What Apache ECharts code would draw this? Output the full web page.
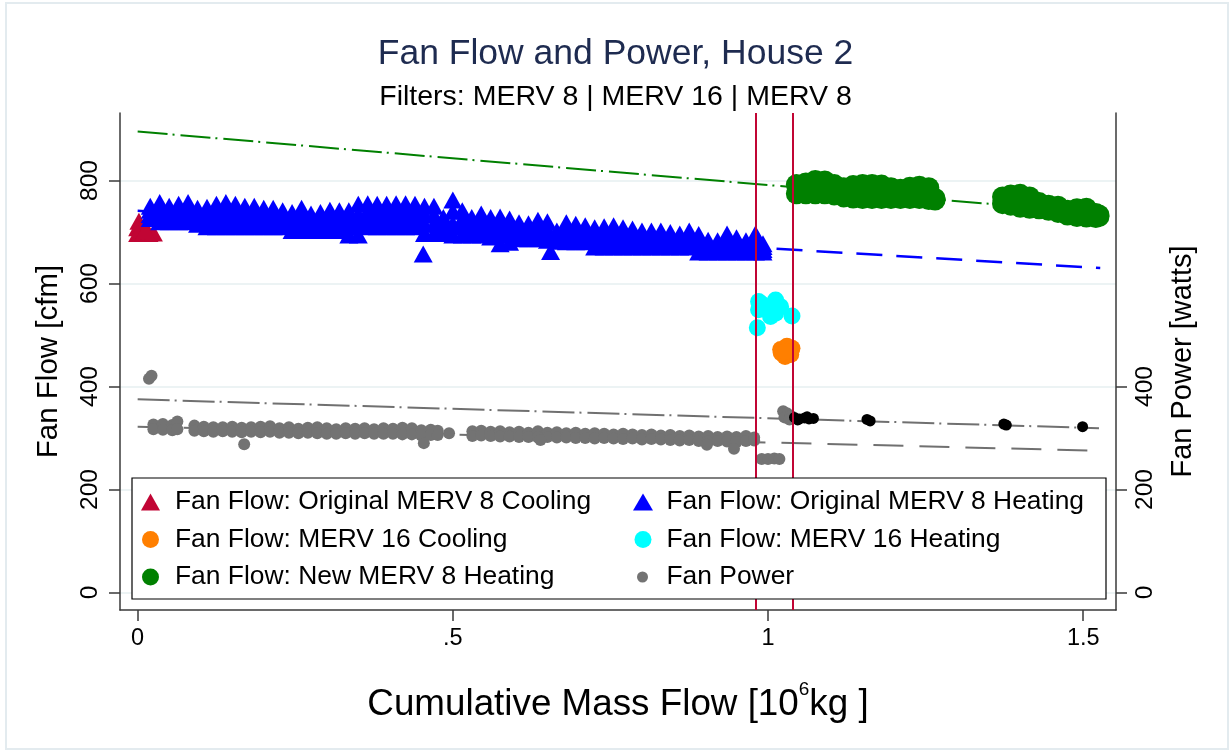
<!DOCTYPE html>
<html><head><meta charset="utf-8">
<script src="https://cdn.jsdelivr.net/npm/echarts@6/dist/echarts.min.js"></script>
<style>html,body{margin:0;padding:0;background:#fff}#c{width:1231px;height:753px}</style>
</head><body><div id="c"></div>
<script>
const FONT = "'Liberation Sans', Arial, sans-serif";

// ---- tick labels ----
const xTickValues = [0, 0.5, 1, 1.5];
const xTickLabels = ['0', '.5', '1', '1.5'];
const flowTickValues = [0, 200, 400, 600, 800];
const powerTickValues = [0, 200, 400];
const filterChanges = [0.983, 1.041];

// ---- series names ----
const N_RED = 'Fan Flow: Original MERV 8 Cooling';
const N_BLUE = 'Fan Flow: Original MERV 8 Heating';
const N_ORANGE = 'Fan Flow: MERV 16 Cooling';
const N_CYAN = 'Fan Flow: MERV 16 Heating';
const N_GREEN = 'Fan Flow: New MERV 8 Heating';
const N_POWER = 'Fan Power';

// ---- data (x in 10^6 kg, y in cfm / watts) ----
const origCooling = [[0.002,721],[0.000,708],[0.006,706],[0.000,697],[0.010,698],[0.018,697],[0.025,698],[0.012,703]];

// [x, top, mid1, mid2, bottom]
const origHeatingRows = [
[0.020,750,742,734,726],[0.035,757,745,732,720],[0.050,750,740,730,720],[0.065,754,742,731,720],
[0.080,757,745,732,720],[0.095,746,736,725,715],[0.110,748,735,722,710],[0.125,754,740,725,710],
[0.140,757,742,726,710],[0.155,754,740,725,710],[0.170,750,736,723,710],[0.185,750,736,723,710],
[0.200,746,734,722,710],[0.215,746,734,722,710],[0.230,741,731,720,710],[0.245,738,726,715,703],
[0.260,746,732,717,703],[0.275,735,724,714,703],[0.290,738,726,715,703],[0.305,742,729,716,703],
[0.320,741,728,716,703],[0.335,741,725,710,694],[0.350,754,734,714,694],[0.365,755,740,725,710],
[0.380,754,739,724,710],[0.395,754,739,724,710],[0.410,755,740,725,710],[0.425,755,740,725,710],
[0.440,754,739,724,710],[0.455,750,733,715,697],[0.470,750,733,715,697],[0.485,728,718,707,697],
[0.500,762,740,716,694],[0.515,741,725,710,694],[0.530,728,717,705,694],[0.545,735,721,708,694],
[0.560,728,715,703,690],[0.575,729,712,694,677],[0.590,725,710,695,680],[0.605,718,708,697,687],
[0.620,716,706,697,687],[0.635,723,711,699,687],[0.650,720,706,694,684],[0.665,702,694,688,682],
[0.680,718,706,693,681],[0.695,715,704,692,681],[0.710,712,702,691,681],[0.725,708,696,683,671],
[0.740,710,697,684,671],[0.755,712,698,685,671],[0.770,708,696,683,671],[0.785,706,694,683,671],
[0.800,702,692,681,671],[0.815,702,692,681,671],[0.830,702,692,681,671],[0.845,699,690,680,671],
[0.860,696,688,679,671],[0.875,702,692,681,671],[0.890,695,684,672,661],[0.905,684,676,669,661],
[0.920,683,676,668,661],[0.935,696,684,673,661],[0.950,689,680,670,661],[0.965,683,676,668,661],
[0.980,696,684,673,661],[0.992,677,672,666,661]
];
const origHeatingExtra = [[0.453,657],[0.655,662]];

const merv16Cooling = [[1.020,472],[1.030,478],[1.038,474],[1.036,462],[1.027,458],[1.021,465],[1.028,468]];
const merv16Heating = [[0.985,565],[1.012,568],[0.999,552],[0.985,549],[1.012,542],[1.004,536],[1.038,537],[0.983,514],[1.020,555],[0.990,560]];

// [x, top, bottom]
const newMerv8Rows = [
[1.045,792,774],[1.060,795,774],[1.075,800,774],[1.090,799,774],[1.105,792,772],[1.120,786,768],
[1.135,790,766],[1.150,792,765],[1.165,792,765],[1.180,791,765],[1.195,786,765],[1.210,783,765],
[1.225,787,765],[1.240,789,765],[1.255,786,763],[1.265,765,762],
[1.372,768,755],[1.385,772,752],[1.400,773,748],[1.415,768,746],[1.430,757,745],[1.445,752,742],
[1.460,750,738],[1.475,742,733],[1.490,745,730],[1.505,746,729],[1.520,736,728],[1.525,733,730]
];

// fan power [x, upper, lower] (watts)
const powerRows = [
[0.025,326,317],[0.040,327,316],[0.055,325,315],[0.063,332,317],
[0.090,324,314],[0.105,322,313],[0.120,321,312],[0.135,321,313],[0.150,322,312],[0.165,320,311],
[0.180,321,312],[0.195,322,311],[0.210,323,312],[0.225,319,310],[0.240,321,310],[0.255,318,309],
[0.270,320,310],[0.285,321,309],[0.300,319,308],[0.315,317,308],[0.330,319,309],[0.345,318,308],
[0.360,319,309],[0.375,317,308],[0.390,319,308],[0.405,318,308],[0.420,320,307],[0.435,319,307],
[0.450,315,305],[0.465,316,306],[0.476,314,306],
[0.531,313,304],[0.545,314,305],[0.560,312,304],[0.575,313,303],[0.590,311,303],[0.605,312,302],
[0.620,310,302],[0.635,313,301],[0.650,310,302],[0.665,311,301],[0.680,309,301],[0.695,310,300],
[0.710,308,300],[0.725,309,299],[0.740,308,300],[0.755,307,299],[0.770,308,298],[0.785,307,299],
[0.800,306,297],[0.815,307,298],[0.830,305,297],[0.845,306,296],[0.860,304,295],[0.875,305,296],
[0.890,303,294],[0.905,304,293],[0.920,302,294],[0.935,303,293],[0.950,302,292],[0.965,304,294],
[0.978,301,295]
];
const powerExtra = [[0.018,415],[0.022,421],[0.169,288],[0.454,290],[0.494,309],[0.639,296],[0.903,287],[0.946,279],
[0.990,259],[1.000,259],[1.010,260],[1.018,259],[1.024,352],[1.030,348],[1.026,340],[1.036,343],[1.034,336]];
const powerNewMerv8 = [[1.042,340],[1.050,337],[1.058,339],[1.065,337],[1.072,338],[1.047,335],[1.062,341],
[1.157,336],[1.162,333],[1.374,327],[1.378,325],[1.499,322]];

// fitted lines (end points)
const fitHeatingOrig = [[0, 741], [1.527, 630]];
const fitHeatingNew = [[0, 895], [1.53, 736]];
const fitPowerNew = [[0, 375], [1.525, 319]];
const fitPowerOrig = [[0, 322], [1.53, 275]];

// ---- reshape ----
function rowsToPoints(rows) {
  const out = [];
  rows.forEach(r => r.slice(1).forEach(v => out.push([r[0], v])));
  return out;
}
const blueData = rowsToPoints(origHeatingRows).concat(origHeatingExtra);
const greenData = rowsToPoints(newMerv8Rows);
const powerData = rowsToPoints(powerRows).concat(powerExtra);

const axisColor = '#3a3a3a';
const chart = echarts.init(document.getElementById('c'), null, {renderer: 'canvas'});

const lineSeries = (data, color, dash, width, yIdx) => ({
  type: 'line', data, yAxisIndex: yIdx, symbol: 'none', silent: true, z: 1,
  lineStyle: {color, width, type: dash}, showSymbol: false
});
const scat = (name, data, color, symbol, size, yIdx, z) => ({
  type: 'scatter', name, data, yAxisIndex: yIdx || 0, symbol, symbolSize: size, z: z || 2,
  itemStyle: {color, opacity: 1}, silent: true
});

const legendText = (pad) => ({fontSize: 26.4, lineHeight: 26, color: '#000', fontFamily: FONT, padding: [0, 0, 0, pad]});

chart.setOption({
  animation: false,
  backgroundColor: '#fff',
  textStyle: {fontFamily: FONT},
  title: [
    {text: 'Fan Flow and Power, House 2', left: 'center', top: 31,
     textStyle: {fontSize: 35.5, fontWeight: 'normal', color: '#1e2b50', fontFamily: FONT}},
    {text: 'Filters: MERV 8 | MERV 16 | MERV 8', left: 'center', top: 78,
     textStyle: {fontSize: 28.5, fontWeight: 'normal', color: '#000', fontFamily: FONT}}
  ],
  grid: {left: 120, right: 115, top: 113, bottom: 143, outerBoundsMode: 'none'},
  xAxis: {
    type: 'value', min: -0.028, max: 1.552,
    axisLine: {show: true, onZero: false, lineStyle: {color: axisColor, width: 1.5}},
    axisTick: {show: true, customValues: xTickValues, length: 11, lineStyle: {color: axisColor, width: 1.5}},
    axisLabel: {customValues: xTickValues, formatter: v => xTickLabels[xTickValues.indexOf(v)],
      fontSize: 23.5, color: '#000', margin: 17, fontFamily: FONT},
    splitLine: {show: false},
    name: '{m|Cumulative Mass Flow [10}{sup|6}{m|kg ]}', nameLocation: 'middle', nameGap: 70,
    nameTextStyle: {color: '#000', fontFamily: FONT, fontSize: 36.8,
      rich: {m: {fontSize: 36.8, lineHeight: 50, color: '#000', fontFamily: FONT},
             sup: {fontSize: 19, lineHeight: 19, verticalAlign: 'top', color: '#000', fontFamily: FONT}}}
  },
  yAxis: [
    {type: 'value', min: -34, max: 931, position: 'left',
     axisLine: {show: true, onZero: false, lineStyle: {color: axisColor, width: 1.5}},
     axisTick: {show: true, customValues: flowTickValues, length: 11, lineStyle: {color: axisColor, width: 1.5}},
     axisLabel: {customValues: flowTickValues, rotate: 90, fontSize: 24.5, color: '#000', margin: 17, fontFamily: FONT},
     splitLine: {show: true, lineStyle: {color: '#e6eff1', width: 1.5}},
     name: 'Fan Flow [cfm]', nameLocation: 'middle', nameRotate: 90, nameGap: 56,
     nameTextStyle: {fontSize: 29.5, color: '#000', fontFamily: FONT}},
    {type: 'value', min: -34, max: 931, position: 'right',
     axisLine: {show: true, onZero: false, lineStyle: {color: axisColor, width: 1.5}},
     axisTick: {show: true, customValues: powerTickValues, length: 11, lineStyle: {color: axisColor, width: 1.5}},
     axisLabel: {customValues: powerTickValues, rotate: 90, fontSize: 24.5, color: '#000', margin: 17, fontFamily: FONT},
     splitLine: {show: false},
     name: 'Fan Power [watts]', nameLocation: 'middle', nameRotate: 90, nameGap: 52,
     nameTextStyle: {fontSize: 29, color: '#000', fontFamily: FONT}}
  ],
  legend: [
    {orient: 'vertical', left: 141, top: 489, padding: 0, itemWidth: 19, itemHeight: 17, itemGap: 11.5,
     selectedMode: false, z: 110, textStyle: legendText(10),
     data: [{name: N_RED, icon: 'triangle'}, {name: N_ORANGE, icon: 'circle'}, {name: N_GREEN, icon: 'circle'}]},
    {orient: 'vertical', left: 633, top: 489, padding: 0, itemWidth: 20, itemHeight: 17, itemGap: 11.5,
     selectedMode: false, z: 110, textStyle: legendText(8.5),
     data: [{name: N_BLUE, icon: 'triangle'}, {name: N_CYAN, icon: 'circle'}]},
    {orient: 'vertical', left: 637, top: 564, padding: 0, itemWidth: 11, itemHeight: 11,
     selectedMode: false, z: 110, textStyle: legendText(13.5),
     data: [{name: N_POWER, icon: 'circle'}]}
  ],
  graphic: [
    {type: 'rect', z: 0, silent: true, shape: {x: 6, y: 3, width: 1222, height: 746},
     style: {fill: 'none', stroke: '#e3ebef', lineWidth: 2}},
    {type: 'rect', z: 100, silent: true, shape: {x: 132, y: 478, width: 974, height: 121},
     style: {fill: '#fff', stroke: '#000', lineWidth: 1.2}}
  ],
  series: [
    lineSeries(fitHeatingOrig, '#0000ff', [26, 14], 2.5, 0),
    lineSeries(fitHeatingNew, '#008000', [30, 5, 2, 6], 2, 0),
    lineSeries(fitPowerNew, '#707070', [32, 5, 2, 6], 2, 1),
    lineSeries(fitPowerOrig, '#707070', [30, 16], 2, 1),
    scat(N_RED, origCooling, '#c10534', 'triangle', [19, 17], 0),
    scat(N_BLUE, blueData, '#0000ff', 'triangle', [19, 17], 0),
    scat(N_ORANGE, merv16Cooling, '#ff7f00', 'circle', 17, 0),
    scat(N_CYAN, merv16Heating, '#00ffff', 'circle', 17, 0),
    scat(N_GREEN, greenData, '#008000', 'circle', 21, 0),
    scat(N_POWER, powerData, '#737373', 'circle', 12, 1),
    scat('Fan Power: New MERV 8', powerNewMerv8, '#000000', 'circle', 11, 1),
    {type: 'scatter', name: 'Filter changes', data: [], z: 10, silent: true,
     markLine: {silent: true, symbol: ['none', 'none'], label: {show: false}, animation: false,
       lineStyle: {color: '#c10534', width: 2, type: 'solid', opacity: 1},
       emphasis: {disabled: true},
       data: filterChanges.map(x => ({xAxis: x}))}}
  ]
});
</script></body></html>
